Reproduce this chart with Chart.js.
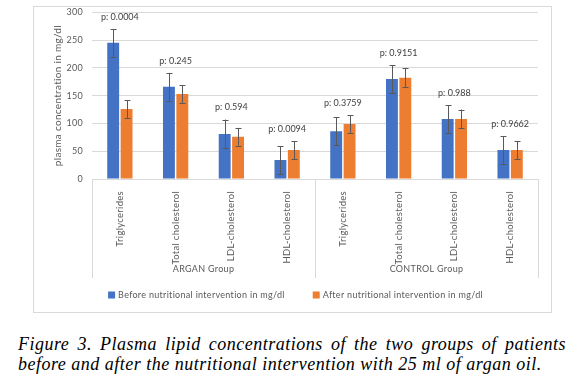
<!DOCTYPE html>
<html>
<head>
<meta charset="utf-8">
<script src="https://cdn.jsdelivr.net/npm/chart.js@4.4.1/dist/chart.umd.min.js"></script>
<style>
  body { margin: 0; background: #fff; width: 582px; height: 387px; position: relative; overflow: hidden; }
  #frame { position: absolute; left: 33px; top: 6px; width: 517px; height: 305px; border: 1px solid #d9d9d9; }
  #caption { position: absolute; left: 18px; top: 334px; width: 548px; font-family: "Liberation Serif", serif; font-style: italic;
    font-size: 18px; line-height: 20px; letter-spacing: 0.5px; color: #000; }
  #caption .l1 { text-align: justify; text-align-last: justify; }
</style>
</head>
<body>
<div id="frame"><canvas id="canvas_plot1" width="517" height="305"></canvas></div>
<div id="caption"><div class="l1">Figure 3. Plasma lipid concentrations of the two groups of patients</div><div>before and after the nutritional intervention with 25 ml of argan oil.</div></div>
<script>
// chart data
var categories = ['Triglycerides', 'Total cholesterol', 'LDL-cholesterol', 'HDL-cholesterol',
                  'Triglycerides', 'Total cholesterol', 'LDL-cholesterol', 'HDL-cholesterol']
var groups = ['ARGAN Group', 'CONTROL Group']
var before_vals = [245, 166, 81, 34, 86, 180, 108, 52]
var after_vals = [126, 153, 76, 52, 99, 182, 108, 52]
var before_err = [25, 25, 26, 25, 25, 25, 25, 25]
var after_err = [16, 16, 16, 16, 16, 17, 17, 16]
var p_values = ['0.0004', '0.245', '0.594', '0.0094', '0.3759', '0.9151', '0.988', '0.9662']
var y_ticks = [0, 50, 100, 150, 200, 250, 300]

var errs = [before_err, after_err]

//error bars + p labels + group separators + legend
var extras = {
    id: 'extras',
    beforeDraw: function (chart) {
        // excel-ish spaced text for the axis labels
        chart.ctx.letterSpacing = '0.3px'
    },
    afterDatasetsDraw: function (chart) {
        var ctx = chart.ctx
        var ys = chart.scales.y
        ctx.save()
        ctx.strokeStyle = '#595959'
        ctx.lineWidth = 1
        for (var d = 0; d < 2; d++) {
            var meta = chart.getDatasetMeta(d)
            var vals = chart.data.datasets[d].data
            meta.data.forEach(function (bar, i) {
                var x = Math.round(bar.x) + 0.5
                var top = ys.getPixelForValue(vals[i] + errs[d][i])
                var bot = ys.getPixelForValue(vals[i] - errs[d][i])
                ctx.beginPath()
                ctx.moveTo(x, top); ctx.lineTo(x, bot)
                ctx.moveTo(x - 3, Math.round(top) + 0.5); ctx.lineTo(x + 3, Math.round(top) + 0.5)
                ctx.moveTo(x - 3, Math.round(bot) + 0.5); ctx.lineTo(x + 3, Math.round(bot) + 0.5)
                ctx.stroke()
            })
        }
        // p value labels
        var xs = chart.scales.x
        ctx.letterSpacing = '0px'
        ctx.fillStyle = '#404040'
        ctx.font = '9px Lato'
        ctx.textAlign = 'center'
        ctx.textBaseline = 'middle'
        for (var i = 0; i < p_values.length; i++) {
            var hi = Math.max(before_vals[i] + before_err[i], after_vals[i] + after_err[i])
            ctx.fillText('p: ' + p_values[i], xs.getPixelForValue(i), ys.getPixelForValue(hi) - 12)
        }
        ctx.restore()
    },
    afterDraw: function (chart) {
        var ctx = chart.ctx
        var xs = chart.scales.x
        ctx.save()
        ctx.strokeStyle = '#d9d9d9'
        ctx.lineWidth = 1
        var half = categories.length / 2
        var mid = (xs.getPixelForValue(half - 1) + xs.getPixelForValue(half)) / 2
        var lines = [xs.left, mid, xs.right]
        lines.forEach(function (lx) {
            ctx.beginPath()
            ctx.moveTo(Math.round(lx) + 0.5, xs.top)
            ctx.lineTo(Math.round(lx) + 0.5, xs.bottom)
            ctx.stroke()
        })
        ctx.letterSpacing = '0.3px'
        ctx.fillStyle = '#595959'
        ctx.font = '9px Lato'
        ctx.textAlign = 'center'
        ctx.textBaseline = 'middle'
        ctx.fillText(groups[0], (xs.left + mid) / 2, xs.bottom - 9)
        ctx.fillText(groups[1], (mid + xs.right) / 2, xs.bottom - 9)

        // legend, drawn by hand so it sits close under the axis
        var ds = chart.data.datasets
        var gap = 28, box = 7, tpad = 3
        var widths = ds.map(function (d) { return box + tpad + ctx.measureText(d.label).width })
        var total = widths.reduce(function (a, b) { return a + b }, 0) + gap * (ds.length - 1)
        var lx = (chart.width - total) / 2 + 3
        var ly = xs.bottom + 17
        ctx.textAlign = 'left'
        ds.forEach(function (d, k) {
            ctx.fillStyle = d.backgroundColor
            ctx.fillRect(lx, ly - box / 2, box, box)
            ctx.fillStyle = '#595959'
            ctx.fillText(d.label, lx + box + tpad, ly)
            lx += widths[k] + gap
        })
        ctx.restore()
    }
}

var config = {
    type: 'bar',
    data: {
        labels: categories,
        datasets: [{
            label: 'Before nutritional intervention in mg/dl',
            data: before_vals,
            backgroundColor: '#4472C4',
            barPercentage: 0.89,
            categoryPercentage: 0.48
        }, {
            label: 'After nutritional intervention in mg/dl',
            data: after_vals,
            backgroundColor: '#ED7D31',
            barPercentage: 0.89,
            categoryPercentage: 0.48
        }]
    },
    options: {
        responsive: false,
        animation: false,
        layout: { padding: { left: 0, right: 13, top: 0, bottom: 34 } },
        plugins: {
            tooltip: { enabled: false },
            legend: { display: false }
        },
        scales: {
            x: {
                grid: { display: false },
                border: { color: '#d9d9d9' },
                ticks: {
                    minRotation: 90, maxRotation: 90, autoSkip: false, padding: 4,
                    color: '#595959', font: { family: 'Lato', size: 9.5 }
                },
                afterFit: function (s) { s.height = 99 }
            },
            y: {
                min: 0, max: 300,
                afterBuildTicks: function (s) { s.ticks = y_ticks.map(function (v) { return { value: v } }) },
                grid: { color: '#d9d9d9', drawTicks: false },
                border: { display: false },
                ticks: { padding: 9, color: '#595959', font: { family: 'Lato', size: 9 } },
                title: {
                    display: true, text: 'plasma concentration in mg/dl',
                    color: '#595959', font: { family: 'Lato', size: 10 }, padding: { top: 18, bottom: 0 }
                },
                afterFit: function (s) { s.width = 58; s.paddingTop = 5.3 }
            }
        }
    },
    plugins: [extras]
}

var barchar = new Chart(document.getElementById('canvas_plot1'), config)
</script>
</body>
</html>
